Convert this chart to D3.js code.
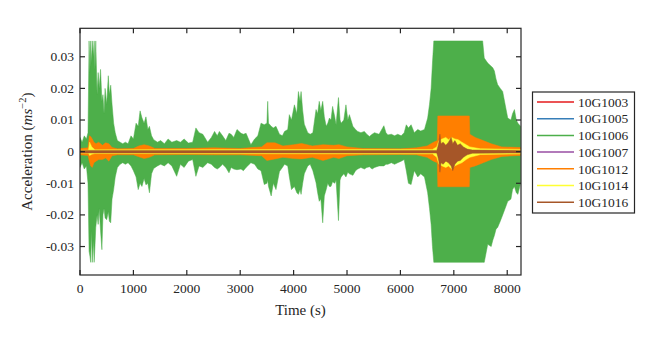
<!DOCTYPE html>
<html>
<head>
<meta charset="utf-8">
<script src="https://cdn.jsdelivr.net/npm/d3@7"></script>
<style>
  body { margin: 0; background: #fff; }
</style>
</head>
<body>
<div id="chart"></div>
<script>
// series names + colours (legend order = draw order)
var seriesNames = ["10G1003", "10G1005", "10G1006", "10G1007", "10G1012", "10G1014", "10G1016"];
var seriesColors = ["#e41a1c", "#377eb8", "#4daf4a", "#984ea3", "#ff7f00", "#ffff33", "#a65628"];

var xTicks = [0, 1000, 2000, 3000, 4000, 5000, 6000, 7000, 8000];
var yTicks = [-0.03, -0.02, -0.01, 0, 0.01, 0.02, 0.03];

// envelopes: time (s), upper and lower acceleration (m/s^2)
var redT  = [0, 8250];
var redHi = [0.0003, 0.0003];
var redLo = [-0.0003, -0.0003];

var blueT  = [0, 8250];
var blueHi = [0.0002, 0.0002];
var blueLo = [-0.0002, -0.0002];

var greenT = [0, 40, 80, 120, 150, 170, 185, 200, 215, 230, 250, 265, 280, 295, 320, 340, 360, 385, 410, 430,
  450, 470, 500, 530, 550, 575, 600, 630, 660, 700, 750, 800, 850, 900, 955, 1000, 1050, 1090, 1125, 1160,
  1200, 1235, 1270, 1300, 1340, 1380, 1450, 1510, 1580, 1650, 1720, 1810, 1880, 1950, 2030, 2110, 2170, 2230, 2300, 2390,
  2460, 2520, 2570, 2610, 2670, 2730, 2790, 2830, 2880, 2940, 3015, 3060, 3110, 3200, 3270, 3330, 3390, 3450, 3500, 3515,
  3530, 3580, 3620, 3670, 3735, 3790, 3830, 3890, 3920, 3960, 4015, 4060, 4090, 4120, 4140, 4170, 4200, 4265, 4310, 4360,
  4420, 4450, 4480, 4510, 4545, 4575, 4610, 4640, 4670, 4700, 4730, 4770, 4795, 4840, 4870, 4890, 4940, 4980, 5015, 5045,
  5110, 5160, 5200, 5260, 5325, 5370, 5420, 5470, 5515, 5600, 5690, 5730, 5765, 5830, 5890, 5950, 6015, 6070, 6110, 6150,
  6200, 6260, 6325, 6380, 6450, 6510, 6545, 6575, 6600, 6625, 7540, 7570, 7635, 7700, 7730, 7760, 7790, 7820, 7870, 7915,
  7960, 8010, 8070, 8100, 8135, 8170, 8200, 8250];
var greenHi = [0.0045, 0.0030, 0.0050, 0.0040, 0.0060, 0.0350, 0.0250, 0.0350, 0.0280, 0.0350, 0.0300, 0.0350, 0.0260, 0.0350, 0.0180, 0.0250, 0.0200, 0.0260, 0.0160, 0.0180,
  0.0120, 0.0200, 0.0150, 0.0240, 0.0180, 0.0210, 0.0150, 0.0090, 0.0060, 0.0035, 0.0030, 0.0025, 0.0030, 0.0025, 0.0050, 0.0040, 0.0090, 0.0080, 0.0129, 0.0107,
  0.0090, 0.0110, 0.0070, 0.0080, 0.0050, 0.0038, 0.0030, 0.0035, 0.0025, 0.0040, 0.0030, 0.0035, 0.0030, 0.0040, 0.0027, 0.0030, 0.0075, 0.0060, 0.0055, 0.0030,
  0.0045, 0.0064, 0.0050, 0.0064, 0.0050, 0.0035, 0.0058, 0.0055, 0.0045, 0.0070, 0.0058, 0.0055, 0.0058, 0.0022, 0.0040, 0.0050, 0.0090, 0.0085, 0.0090, 0.0159,
  0.0090, 0.0080, 0.0075, 0.0080, 0.0055, 0.0050, 0.0064, 0.0070, 0.0117, 0.0100, 0.0148, 0.0120, 0.0190, 0.0159, 0.0190, 0.0130, 0.0087, 0.0060, 0.0055, 0.0060,
  0.0133, 0.0120, 0.0159, 0.0130, 0.0159, 0.0110, 0.0080, 0.0090, 0.0106, 0.0100, 0.0143, 0.0110, 0.0085, 0.0171, 0.0100, 0.0090, 0.0100, 0.0148, 0.0100, 0.0117,
  0.0080, 0.0070, 0.0064, 0.0060, 0.0064, 0.0055, 0.0048, 0.0055, 0.0060, 0.0055, 0.0082, 0.0060, 0.0053, 0.0055, 0.0050, 0.0055, 0.0050, 0.0060, 0.0085, 0.0075,
  0.0085, 0.0060, 0.0070, 0.0065, 0.0070, 0.0106, 0.0150, 0.0200, 0.0280, 0.0350, 0.0350, 0.0296, 0.0280, 0.0270, 0.0265, 0.0255, 0.0230, 0.0212, 0.0200, 0.0190,
  0.0150, 0.0106, 0.0100, 0.0120, 0.0133, 0.0100, 0.0090, 0.0080];
var greenLo = [-0.0050, -0.0035, -0.0055, -0.0045, -0.0100, -0.0315, -0.0330, -0.0350, -0.0250, -0.0350, -0.0280, -0.0350, -0.0300, -0.0240, -0.0200, -0.0230, -0.0180, -0.0250, -0.0310, -0.0200,
  -0.0180, -0.0210, -0.0215, -0.0190, -0.0220, -0.0225, -0.0150, -0.0120, -0.0080, -0.0050, -0.0040, -0.0035, -0.0040, -0.0035, -0.0045, -0.0060, -0.0080, -0.0120, -0.0100, -0.0110,
  -0.0085, -0.0105, -0.0100, -0.0130, -0.0070, -0.0053, -0.0045, -0.0040, -0.0045, -0.0035, -0.0045, -0.0078, -0.0040, -0.0050, -0.0030, -0.0025, -0.0078, -0.0045, -0.0050, -0.0035,
  -0.0040, -0.0050, -0.0055, -0.0050, -0.0040, -0.0050, -0.0067, -0.0050, -0.0055, -0.0057, -0.0055, -0.0060, -0.0050, -0.0035, -0.0040, -0.0055, -0.0060, -0.0104, -0.0100, -0.0090,
  -0.0110, -0.0140, -0.0100, -0.0120, -0.0063, -0.0050, -0.0040, -0.0045, -0.0080, -0.0120, -0.0110, -0.0130, -0.0135, -0.0120, -0.0135, -0.0100, -0.0070, -0.0045, -0.0040, -0.0060,
  -0.0098, -0.0130, -0.0157, -0.0150, -0.0225, -0.0140, -0.0120, -0.0100, -0.0110, -0.0110, -0.0095, -0.0100, -0.0090, -0.0218, -0.0090, -0.0080, -0.0070, -0.0080, -0.0065, -0.0070,
  -0.0075, -0.0060, -0.0055, -0.0050, -0.0055, -0.0050, -0.0048, -0.0055, -0.0050, -0.0045, -0.0045, -0.0040, -0.0040, -0.0035, -0.0040, -0.0035, -0.0030, -0.0025, -0.0060, -0.0100,
  -0.0104, -0.0060, -0.0080, -0.0070, -0.0080, -0.0130, -0.0180, -0.0230, -0.0300, -0.0350, -0.0350, -0.0350, -0.0293, -0.0300, -0.0280, -0.0265, -0.0245, -0.0240, -0.0220, -0.0200,
  -0.0180, -0.0157, -0.0150, -0.0120, -0.0110, -0.0130, -0.0135, -0.0100];

var purpleT  = [0, 8250];
var purpleHi = [0.0002, 0.0002];
var purpleLo = [-0.0002, -0.0002];

var orangeT = [0, 150, 175, 200, 230, 260, 300, 350, 420, 480, 540, 600, 700, 1000, 1100, 1200, 1300, 1400, 2000, 2500,
  3000, 3400, 3500, 3650, 3800, 4000, 4150, 4350, 4550, 4750, 4850, 5000, 5300, 6000, 6300, 6500, 6620, 6690, 6700, 7290,
  7300, 7400, 7550, 7700, 7900, 8250];
var orangeHi = [0.0010, 0.0012, 0.0050, 0.0048, 0.0040, 0.0030, 0.0025, 0.0030, 0.0020, 0.0028, 0.0025, 0.0013, 0.0009, 0.0010, 0.0018, 0.0022, 0.0018, 0.0010, 0.0010, 0.0012,
  0.0010, 0.0015, 0.0028, 0.0028, 0.0018, 0.0022, 0.0026, 0.0018, 0.0022, 0.0020, 0.0022, 0.0015, 0.0010, 0.0009, 0.0012, 0.0018, 0.0030, 0.0035, 0.0113, 0.0113,
  0.0055, 0.0045, 0.0035, 0.0025, 0.0015, 0.0013];
var orangeLo = [-0.0010, -0.0012, -0.0030, -0.0045, -0.0050, -0.0035, -0.0030, -0.0025, -0.0025, -0.0020, -0.0030, -0.0013, -0.0010, -0.0010, -0.0016, -0.0022, -0.0018, -0.0010, -0.0009, -0.0010,
  -0.0010, -0.0013, -0.0028, -0.0023, -0.0018, -0.0022, -0.0023, -0.0018, -0.0028, -0.0018, -0.0022, -0.0013, -0.0010, -0.0009, -0.0010, -0.0018, -0.0030, -0.0035, -0.0111, -0.0111,
  -0.0050, -0.0045, -0.0035, -0.0025, -0.0015, -0.0012];

var yellowT  = [0, 160, 180, 220, 280, 6600, 6680, 6720, 6780, 6850, 6900, 6960, 7020, 7080, 7150, 7230, 7300, 7500, 8250];
var yellowHi = [0.0005, 0.0005, 0.0030, 0.0015, 0.0006, 0.0007, 0.0015, 0.0035, 0.0040, 0.0045, 0.0038, 0.0045, 0.0040, 0.0038, 0.0030, 0.0022, 0.0015, 0.0009, 0.0007];
var yellowLo = [-0.0005, -0.0005, -0.0012, -0.0008, -0.0006, -0.0007, -0.0018, -0.0040, -0.0045, -0.0050, -0.0045, -0.0055, -0.0045, -0.0040, -0.0035, -0.0025, -0.0018, -0.0009, -0.0007];

var brownT  = [0, 6680, 6700, 6720, 6740, 6760, 6800, 6850, 6900, 6950, 6980, 7020, 7070, 7120, 7180, 7250, 7350, 8250];
var brownHi = [0.0004, 0.0004, 0.0015, 0.0030, 0.0055, 0.0025, 0.0030, 0.0020, 0.0030, 0.0045, 0.0025, 0.0035, 0.0020, 0.0025, 0.0015, 0.0008, 0.0005, 0.0004];
var brownLo = [-0.0004, -0.0004, -0.0015, -0.0030, -0.0065, -0.0035, -0.0040, -0.0030, -0.0035, -0.0045, -0.0060, -0.0040, -0.0030, -0.0028, -0.0018, -0.0010, -0.0005, -0.0004];

var seriesT  = [redT, blueT, greenT, purpleT, orangeT, yellowT, brownT];
var seriesHi = [redHi, blueHi, greenHi, purpleHi, orangeHi, yellowHi, brownHi];
var seriesLo = [redLo, blueLo, greenLo, purpleLo, orangeLo, yellowLo, brownLo];

var width = 664, height = 338;
var margin = {left: 80, right: 143, top: 28.3, bottom: 63};
var axisColor = "#262626";
var fontFamily = "'Liberation Serif', 'Times New Roman', 'DejaVu Serif', serif";

var svg = d3.select("#chart").append("svg")
  .attr("width", width)
  .attr("height", height)
  .attr("font-family", fontFamily);

var x = d3.scaleLinear().domain([0, 8258]).range([margin.left, width - margin.right]);
var y = d3.scaleLinear().domain([-0.039, 0.039]).range([height - margin.bottom, margin.top]);

svg.append("clipPath").attr("id", "plotClip")
  .append("rect")
  .attr("x", x(0)).attr("y", y(0.039))
  .attr("width", x(8258) - x(0)).attr("height", y(-0.039) - y(0.039));

var plot = svg.append("g").attr("clip-path", "url(#plotClip)");

// each series drawn as the band between its upper and lower envelope
seriesNames.forEach(function(name, i) {
  var pts = seriesT[i].map(function(t, j) { return {t: t, hi: seriesHi[i][j], lo: seriesLo[i][j]}; });
  var area = d3.area()
    .x(function(d) { return x(d.t); })
    .y0(function(d) { return y(d.lo); })
    .y1(function(d) { return y(d.hi); });
  plot.append("path")
    .datum(pts)
    .attr("d", area)
    .attr("fill", seriesColors[i])
    .attr("stroke", seriesColors[i])
    .attr("stroke-width", 0.5);
});

// axes: box with inward ticks on all four sides
var tickLen = 5;
var axes = svg.append("g")
  .attr("stroke", axisColor)
  .attr("stroke-width", 1.2)
  .attr("fill", "none");

axes.append("rect")
  .attr("x", x(0)).attr("y", y(0.039))
  .attr("width", x(8258) - x(0)).attr("height", y(-0.039) - y(0.039));

xTicks.forEach(function(t) {
  axes.append("line").attr("x1", x(t)).attr("x2", x(t))
    .attr("y1", y(-0.039)).attr("y2", y(-0.039) - tickLen);
  axes.append("line").attr("x1", x(t)).attr("x2", x(t))
    .attr("y1", y(0.039)).attr("y2", y(0.039) + tickLen);
});
yTicks.forEach(function(v) {
  axes.append("line").attr("x1", x(0)).attr("x2", x(0) + tickLen)
    .attr("y1", y(v)).attr("y2", y(v));
  axes.append("line").attr("x1", x(8258)).attr("x2", x(8258) - tickLen)
    .attr("y1", y(v)).attr("y2", y(v));
});

svg.append("g").selectAll("text")
  .data(xTicks).enter().append("text")
  .attr("x", function(d) { return x(d); })
  .attr("y", 293)
  .attr("text-anchor", "middle")
  .attr("font-size", "13.5px")
  .attr("fill", axisColor)
  .text(function(d) { return d; });

svg.append("g").selectAll("text")
  .data(yTicks).enter().append("text")
  .attr("x", 74)
  .attr("y", function(d) { return y(d); })
  .attr("dy", "0.33em")
  .attr("text-anchor", "end")
  .attr("font-size", "13.5px")
  .attr("fill", axisColor)
  .text(function(d) { return d === 0 ? "0" : d.toFixed(2); });

svg.append("text")
  .attr("x", x(4129))
  .attr("y", 315)
  .attr("text-anchor", "middle")
  .attr("font-size", "15px")
  .attr("fill", axisColor)
  .text("Time (s)");

var yLabel = svg.append("text")
  .attr("transform", "translate(32," + y(0) + ") rotate(-90)")
  .attr("text-anchor", "middle")
  .attr("font-size", "15px")
  .attr("fill", axisColor);
yLabel.append("tspan").text("Acceleration (");
yLabel.append("tspan").attr("font-style", "italic").text("ms");
yLabel.append("tspan").attr("font-size", "10.5px").attr("dy", "-0.55em").text("\u22122");
yLabel.append("tspan").attr("dy", "0.38em").text(")");

// legend
var legend = svg.append("g");
legend.append("rect")
  .attr("x", 532.5).attr("y", 92)
  .attr("width", 102).attr("height", 121)
  .attr("fill", "#fff")
  .attr("stroke", axisColor)
  .attr("stroke-width", 1.2);

var rows = legend.selectAll("g.row")
  .data(seriesNames).enter().append("g")
  .attr("class", "row")
  .attr("transform", function(d, i) { return "translate(0," + (102 + i * 16.7) + ")"; });
rows.append("line")
  .attr("x1", 537).attr("x2", 574)
  .attr("stroke", function(d, i) { return seriesColors[i]; })
  .attr("stroke-width", 1.5);
rows.append("text")
  .attr("x", 578)
  .attr("dy", "0.35em")
  .attr("font-size", "13.5px")
  .attr("fill", axisColor)
  .text(function(d) { return d; });
</script>
</body>
</html>
